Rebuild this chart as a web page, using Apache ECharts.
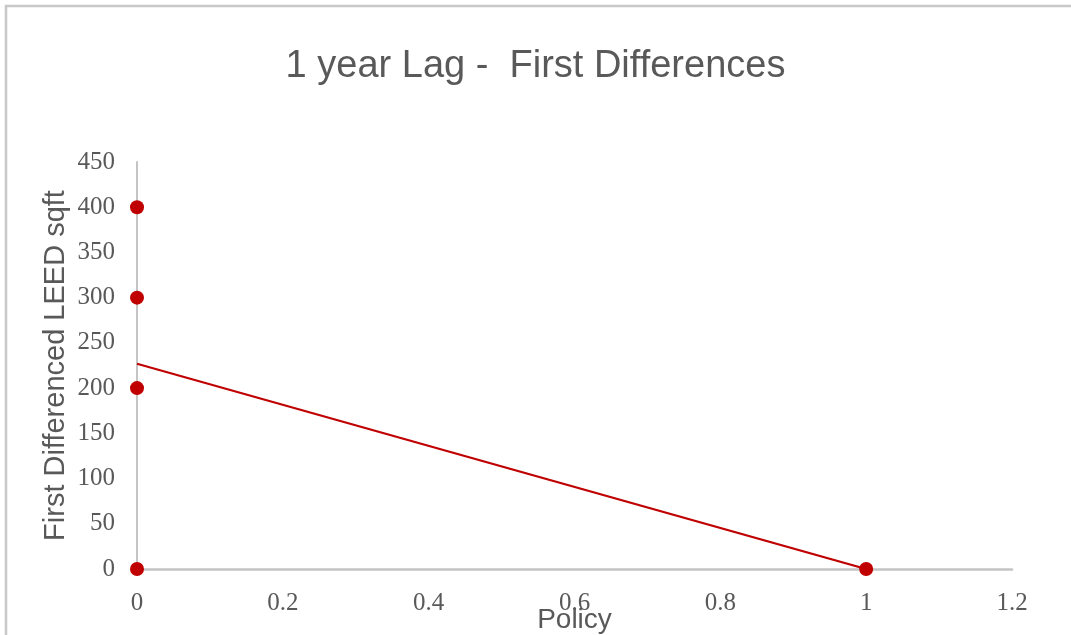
<!DOCTYPE html>
<html>
<head>
<meta charset="utf-8">
<script src="https://cdn.jsdelivr.net/npm/echarts@6/dist/echarts.min.js"></script>
<style>
html,body{margin:0;padding:0;background:#fff;}
#chart{width:1071px;height:635px;}
</style>
</head>
<body>
<div id="chart"></div>
<script>
const titleText = '1 year Lag -  First Differences';
const xName = 'Policy';
const yName = 'First Differenced LEED sqft';
const pointX = [0, 0, 0, 0, 1];
const pointY = [400, 300, 200, 0, 0];
const trendX = [0, 1];
const trendY = [227, 0];
const xTicks = {min: 0, max: 1.2, interval: 0.2};
const yTicks = {min: 0, max: 450, interval: 50};

const chart = echarts.init(document.getElementById('chart'), null, {renderer: 'canvas'});
const tickFont = {fontFamily: 'Liberation Serif, Times New Roman, serif', fontSize: 25, color: '#595959'};
const sansFont = 'Liberation Sans, Arial, sans-serif';

chart.setOption({
  animation: false,
  backgroundColor: '#ffffff',
  title: {
    text: titleText,
    left: 'center',
    top: 43,
    textStyle: {fontFamily: sansFont, fontSize: 38, fontWeight: 'normal', color: '#595959'}
  },
  graphic: [
    {type: 'line', shape: {x1: 5, y1: 6, x2: 1071, y2: 6}, style: {stroke: '#c8c8c8', lineWidth: 2.5}},
    {type: 'line', shape: {x1: 6, y1: 5, x2: 6, y2: 635}, style: {stroke: '#c8c8c8', lineWidth: 2.5}}
  ],
  grid: {left: 137, right: 59, top: 162, bottom: 66, containLabel: false, outerBoundsMode: 'none'},
  xAxis: {
    type: 'value',
    min: xTicks.min, max: xTicks.max, interval: xTicks.interval,
    name: xName,
    nameLocation: 'middle',
    nameGap: 37,
    nameMoveOverlap: false,
    nameTextStyle: {fontFamily: sansFont, fontSize: 28, color: '#595959'},
    axisLine: {show: true, onZero: false, lineStyle: {color: '#c4c4c4', width: 2.5}},
    axisTick: {show: false},
    splitLine: {show: false},
    axisLabel: Object.assign({margin: 22}, tickFont)
  },
  yAxis: {
    type: 'value',
    min: yTicks.min, max: yTicks.max, interval: yTicks.interval,
    name: yName,
    nameLocation: 'middle',
    nameGap: 67,
    nameRotate: 90,
    nameMoveOverlap: false,
    nameTextStyle: {fontFamily: sansFont, fontSize: 29, color: '#595959'},
    axisLine: {show: true, onZero: false, lineStyle: {color: '#c4c4c4', width: 2}},
    axisTick: {show: false},
    splitLine: {show: false},
    axisLabel: Object.assign({margin: 22}, tickFont)
  },
  series: [
    {
      type: 'line',
      data: trendX.map((x, i) => [x, trendY[i]]),
      showSymbol: false,
      symbol: 'none',
      lineStyle: {color: '#c00000', width: 2.2},
      z: 2
    },
    {
      type: 'scatter',
      data: pointX.map((x, i) => [x, pointY[i]]),
      symbolSize: 14,
      itemStyle: {color: '#c00000', opacity: 1},
      z: 3
    }
  ]
});
</script>
</body>
</html>
